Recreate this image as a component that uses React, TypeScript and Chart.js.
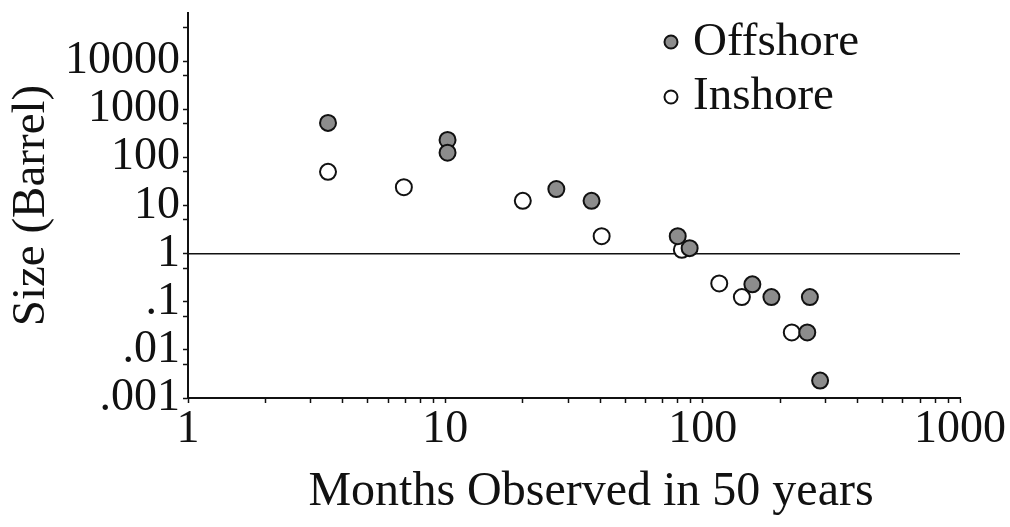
import React, { useEffect, useRef } from "react";
import { Chart, registerables } from "chart.js";

Chart.register(...registerables);

// ---- data ----
const offshoreMonths = [3.5, 10.2, 10.2, 27, 37, 80, 89, 156, 185, 261, 255, 286];
const offshoreSize = [520, 230, 125, 22, 12.5, 2.3, 1.3, 0.23, 0.125, 0.125, 0.023, 0.0023];
const inshoreMonths = [3.5, 6.9, 20, 40.5, 83, 116, 142, 222];
const inshoreSize = [50, 24, 12.5, 2.3, 1.2, 0.24, 0.125, 0.023];
const referenceMonths = [1, 1000];
const referenceSize = [1, 1];

const xTickValues = [1, 10, 100, 1000];
const xTickLabels = ["1", "10", "100", "1000"];
const yTickValues = [0.001, 0.01, 0.1, 1, 10, 100, 1000, 10000];
const yTickLabels = [".001", ".01", ".1", "1", "10", "100", "1000", "10000"];
const yAxisMax = 100000;
const legendLabels = ["Offshore", "Inshore"];

const xTitle = "Months Observed in 50 years";
const yTitle = "Size (Barrel)";

const FONT = "'Liberation Serif', 'Times New Roman', serif";

function labelFor(values: number[], labels: string[], v: number): string {
  for (let i = 0; i < values.length; i++) {
    if (Math.abs(Math.log10(v) - Math.log10(values[i])) < 1e-6) return labels[i];
  }
  return "";
}

const legendPlugin = {
  id: "customLegend",
  afterDatasetsDraw(chart: any) {
    const { ctx, chartArea } = chart;
    const mx = chartArea.right - 289;
    const rows = [
      { y: chartArea.top + 29, base: chartArea.top + 42, fill: "#8c8c8c" },
      { y: chartArea.top + 84, base: chartArea.top + 96, fill: "#ffffff" },
    ];
    ctx.save();
    rows.forEach((r, i) => {
      ctx.beginPath();
      ctx.arc(mx, r.y, 6.5, 0, Math.PI * 2);
      ctx.fillStyle = r.fill;
      ctx.fill();
      ctx.lineWidth = 2;
      ctx.strokeStyle = "#111";
      ctx.stroke();
      ctx.fillStyle = "#111";
      ctx.font = `47px ${FONT}`;
      ctx.textAlign = "left";
      ctx.textBaseline = "alphabetic";
      ctx.fillText(legendLabels[i], mx + 22, r.base);
    });
    // x-axis title (slightly right of centre, as in the reference)
    ctx.font = `48px ${FONT}`;
    ctx.textAlign = "center";
    ctx.textBaseline = "alphabetic";
    ctx.fillStyle = "#111";
    ctx.fillText(xTitle, (chartArea.left + chartArea.right) / 2 + 17, chartArea.bottom + 107);
    ctx.restore();
  },
};

export default function App() {
  const canvasRef = useRef<HTMLCanvasElement | null>(null);

  useEffect(() => {
    if (!canvasRef.current) return;
    const chart = new Chart(canvasRef.current, {
      type: "scatter",
      data: {
        datasets: [
          {
            label: legendLabels[0],
            data: offshoreMonths.map((x, i) => ({ x, y: offshoreSize[i] })),
            backgroundColor: "#8c8c8c",
            borderColor: "#111",
            borderWidth: 2,
            pointRadius: 8,
            order: 1,
          },
          {
            label: legendLabels[1],
            data: inshoreMonths.map((x, i) => ({ x, y: inshoreSize[i] })),
            backgroundColor: "#ffffff",
            borderColor: "#111",
            borderWidth: 2,
            pointRadius: 8,
            order: 2,
          },
          {
            label: "ref",
            type: "line",
            data: referenceMonths.map((x, i) => ({ x, y: referenceSize[i] })),
            borderColor: "#111",
            borderWidth: 1.5,
            pointRadius: 0,
            showLine: true,
            fill: false,
            order: 3,
          } as any,
        ],
      },
      options: {
        animation: false,
        responsive: true,
        maintainAspectRatio: false,
        layout: { padding: { top: 13, right: 50, left: 0, bottom: 0 } },
        plugins: {
          legend: { display: false },
          tooltip: { enabled: false },
        },
        scales: {
          x: {
            type: "logarithmic",
            min: xTickValues[0],
            max: xTickValues[xTickValues.length - 1],
            afterBuildTicks: (scale: any) => {
              const t: { value: number }[] = [];
              for (let d = 0; d < xTickValues.length - 1; d++) {
                for (let m = 1; m <= 9; m++) t.push({ value: m * xTickValues[d] });
              }
              t.push({ value: xTickValues[xTickValues.length - 1] });
              scale.ticks = t;
            },
            afterFit: (scale: any) => {
              scale.height = 129;
            },
            ticks: {
              autoSkip: false,
              maxRotation: 0,
              minRotation: 0,
              padding: 2,
              color: "#111",
              font: { family: FONT, size: 46, lineHeight: 1.1 },
              callback: (v: any) => labelFor(xTickValues, xTickLabels, Number(v)),
            },
            grid: {
              display: true,
              drawOnChartArea: false,
              drawTicks: true,
              tickLength: 5,
              tickColor: "#111",
              tickWidth: 1.5,
            },
            border: { display: true, color: "#111", width: 2 },
            title: { display: false },
          },
          y: {
            type: "logarithmic",
            min: yTickValues[0],
            max: yAxisMax,
            afterBuildTicks: (scale: any) => {
              const t: { value: number }[] = [];
              for (let d = 0; d < yTickValues.length; d++) {
                t.push({ value: yTickValues[d] });
                t.push({ value: 5 * yTickValues[d] });
              }
              scale.ticks = t;
            },
            afterFit: (scale: any) => {
              scale.width = 188;
            },
            ticks: {
              autoSkip: false,
              padding: 3,
              color: "#111",
              font: { family: FONT, size: 46, lineHeight: 0.4 },
              callback: (v: any) => labelFor(yTickValues, yTickLabels, Number(v)),
            },
            grid: {
              display: true,
              drawOnChartArea: false,
              drawTicks: true,
              tickLength: 5,
              tickColor: "#111",
              tickWidth: 1.5,
            },
            border: { display: true, color: "#111", width: 2 },
            title: {
              display: true,
              text: yTitle,
              color: "#111",
              font: { family: FONT, size: 47, lineHeight: 1.1 },
              padding: { top: 6, bottom: 0 },
            },
          },
        },
      },
      plugins: [legendPlugin],
    });
    return () => chart.destroy();
  }, []);

  return (
    <div style={{ position: "absolute", left: 0, top: 0, width: 1010, height: 527, background: "#fff" }}>
      <canvas ref={canvasRef} />
    </div>
  );
}
